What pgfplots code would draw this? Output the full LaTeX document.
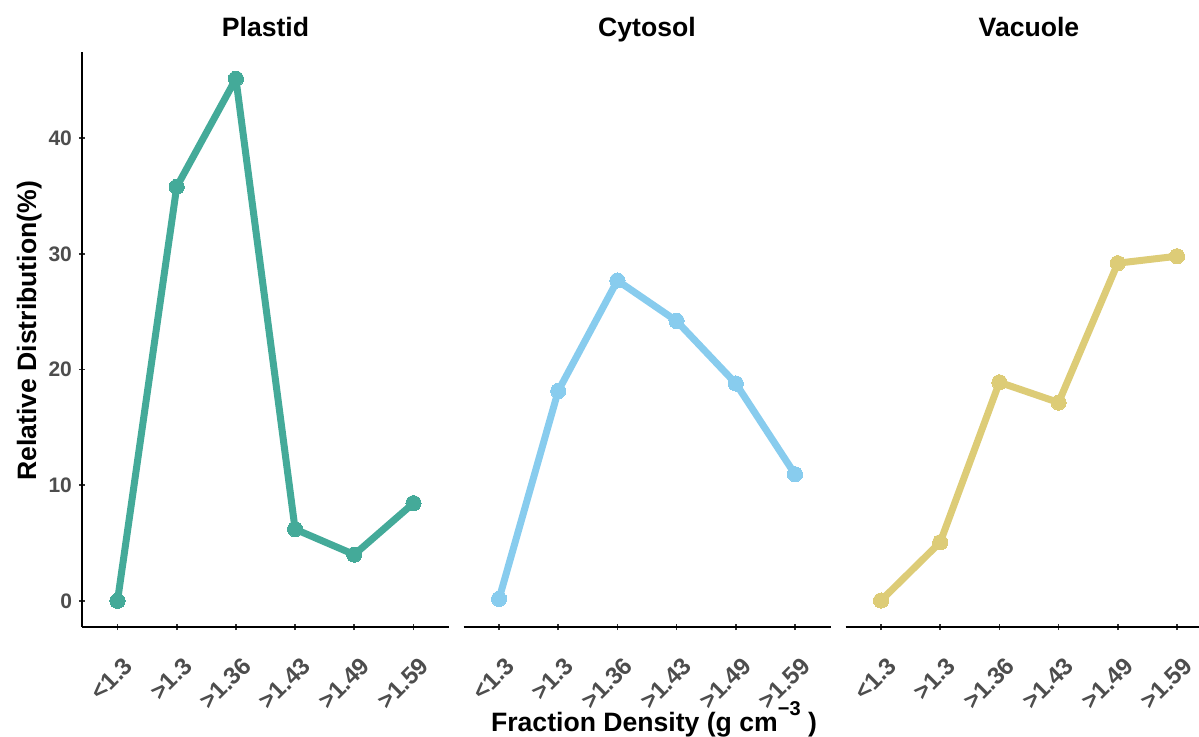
\documentclass[border=0pt]{standalone}
\usepackage{fontspec}
\setmainfont{Liberation Sans}
\usepackage{pgfplots}
\pgfplotsset{compat=1.18}
\definecolor{cPl}{HTML}{44AA99}
\definecolor{cCy}{HTML}{88CCEE}
\definecolor{cVa}{HTML}{DDCC77}
\definecolor{tickgray}{HTML}{4D4D4D}
\pgfplotsset{
  panel/.style={
    scale only axis, width=183.5pt, height=287.5pt,
    xmin=-0.6, xmax=5.6, ymin=-2.26, ymax=47.46,
    xtick={0,...,5},
    xticklabels={<1.3,>1.3,>1.36,>1.43,>1.49,>1.59},
    ytick={0,10,20,30,40},
    tick align=outside, major tick length=3pt,
    tick style={color=black!80, line width=0.8pt},
    xticklabel style={rotate=45, anchor=north east, inner sep=1pt, xshift=-6.2pt, yshift=-9.7pt,
      font=\fontsize{12}{14}\selectfont\bfseries, text=tickgray},
    yticklabel style={font=\fontsize{10.5}{12}\selectfont\bfseries, text=tickgray},
    /pgf/number format/assume math mode=true,
    title style={font=\fontsize{13.3}{15}\selectfont\bfseries, at={(axis description cs:0.5,1)}, anchor=base, yshift=1.5pt},
    clip=false,
  },
  lines/.style={axis line style={-, line width=1pt, black},
    x axis line style={-}, y axis line style={-}},
  ser/.style={color=#1, line width=3.5pt, line join=round, mark=*, mark size=3.8pt,
    mark options={solid, fill=#1, draw=#1, line width=0pt}},
}
\begin{document}
\begin{tikzpicture}
\useasboundingbox (0,0) rectangle (599.5pt,368pt);
% Plastid
\begin{axis}[panel, at={(41pt,54.5pt)}, anchor=south west,
  axis x line=bottom, axis y line=left, lines, title={Plastid},
  ylabel={Relative Distribution(\%)},
  ylabel style={font=\fontsize{13.3}{15}\selectfont\bfseries, rotate=0, inner sep=0pt, anchor=base,
    at={(axis description cs:-0.125,0.515)}}]
\addplot[ser=cPl] coordinates {(0,0) (1,35.8) (2,45.15) (3,6.2) (4,4.0) (5,8.45)};
\end{axis}
% Cytosol
\begin{axis}[panel, at={(231.75pt,54.5pt)}, anchor=south west,
  axis x line=bottom, axis y line=none, lines, ytick=\empty, title={Cytosol},
  xlabel={Fraction Density (g cm\raisebox{0.6em}{\fontsize{10}{12}\selectfont −3}\ )},
  xlabel style={font=\fontsize{13.3}{15}\selectfont\bfseries, inner sep=0pt, anchor=base,
    at={(axis description cs:0.519,-0.181)}}]
\addplot[ser=cCy] coordinates {(0,0.17) (1,18.15) (2,27.7) (3,24.2) (4,18.8) (5,10.95)};
\end{axis}
% Vacuole
\begin{axis}[panel, at={(422.75pt,54.5pt)}, anchor=south west,
  axis x line=bottom, axis y line=none, lines, ytick=\empty, title={Vacuole}]
\addplot[ser=cVa] coordinates {(0,0.03) (1,5.07) (2,18.9) (3,17.15) (4,29.2) (5,29.8)};
\end{axis}
\end{tikzpicture}
\end{document}
